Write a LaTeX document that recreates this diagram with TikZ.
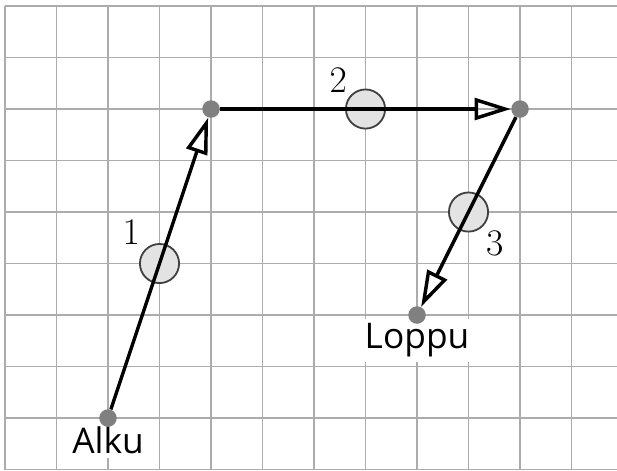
\documentclass[tikz,border=0pt]{standalone}
\usepackage{fontspec}
\newfontfamily\labelfont{Open Sans}
\usetikzlibrary{arrows.meta, positioning, backgrounds, calc}

\begin{document}
\begin{tikzpicture}[
	x=1cm, y=1cm,
	>={Triangle[open, length=20pt, width=12pt]},
	gridline/.style={draw=gray!65, line width=1pt},
	pt/.style={circle, fill=gray, inner sep=0pt, minimum size=0.34cm},
	marker/.style={circle, draw=black!75, line width=1pt, fill=gray!22, inner sep=0pt, minimum size=0.76cm},
	leg/.style={->, line width=1.9pt, black},
	num/.style={inner sep=0pt, font=\fontsize{22}{26}\selectfont},
	place/.style={fill=white, inner xsep=8pt, inner ysep=2.5pt, anchor=north, font=\labelfont\fontsize{19.5}{22}\selectfont}
	]
	
	\useasboundingbox (-0.097,-0.01) rectangle (11.883,9.117);
	
	% --------------------------------------------------
	% Route points
	% --------------------------------------------------
	\node[pt] (alku) at (2,1) {};
	\node[pt] (p1) at (4,7) {};
	\node[pt] (p2) at (10,7) {};
	\node[pt] (loppu) at (8,3) {};
	
	% midpoints of the legs
	\node[marker] (m1) at ($(alku)!0.5!(p1)$) {};
	\node[marker] (m2) at ($(p1)!0.5!(p2)$) {};
	\node[marker] (m3) at ($(p2)!0.5!(loppu)$) {};
	
	% --------------------------------------------------
	% Legs
	% --------------------------------------------------
	\draw[leg] (alku) -- (p1);
	\draw[leg] (p1) -- (p2);
	\draw[leg] (p2) -- (loppu);
	
	\node[num] (n1) at ($(m1)+(-0.55,0.61)$) {$1$};
	\node[num] (n2) at ($(m2)+(-0.53,0.56)$) {$2$};
	\node[num] (n3) at ($(m3)+(0.51,-0.6)$) {$3$};
	
	% --------------------------------------------------
	% Grid and place names (behind)
	% --------------------------------------------------
	\begin{scope}[on background layer]
		\draw[gridline] (0,0) grid (11.883,9);
		\node[place] (alkutext) at ([yshift=-2pt]alku.center) {Alku};
		\node[place] (lopputext) at ([yshift=-2pt]loppu.center) {Loppu};
	\end{scope}
	
\end{tikzpicture}
\end{document}
